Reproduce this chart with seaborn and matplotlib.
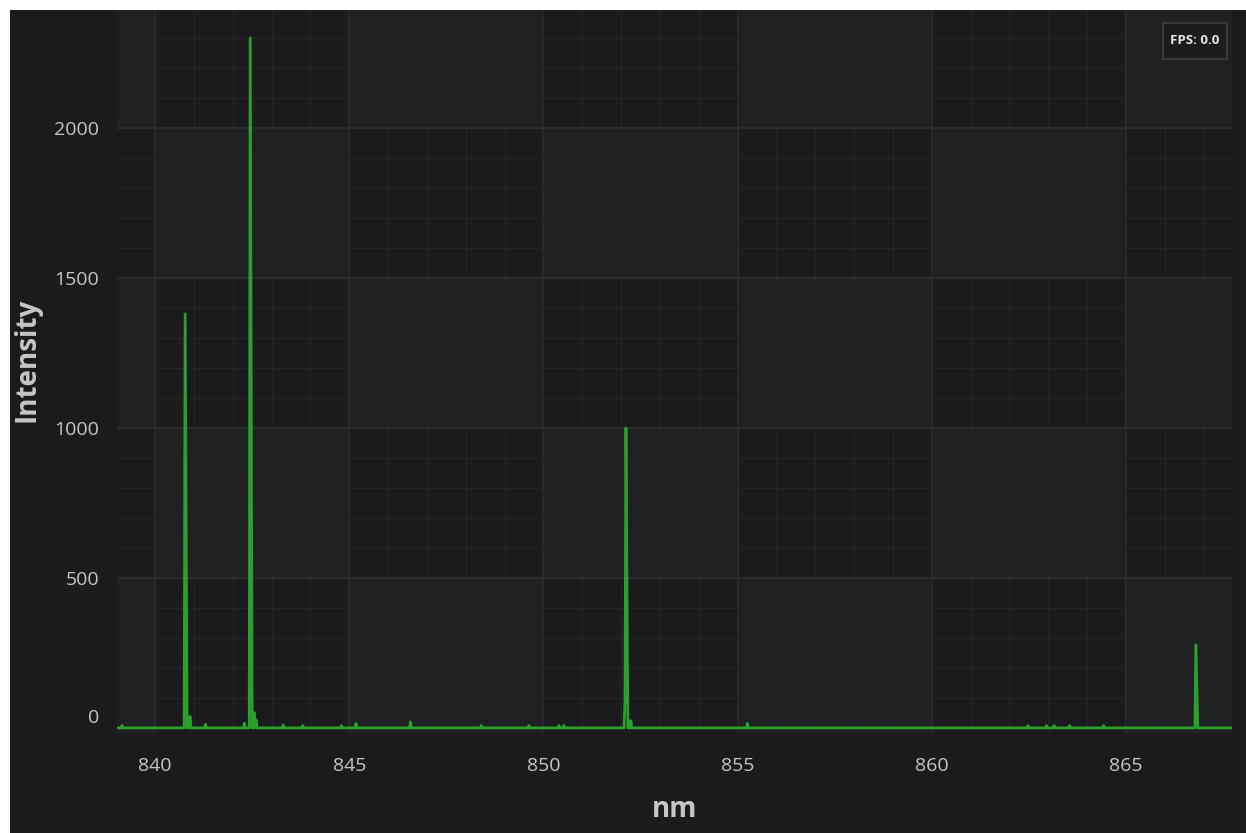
import numpy as np
import pandas as pd
import matplotlib
matplotlib.use("Agg")
import matplotlib.pyplot as plt
import matplotlib.patches as mpatches
import matplotlib.transforms as mtransforms
from matplotlib.ticker import MultipleLocator, FixedLocator
import seaborn as sns

# ---- spectrum data -------------------------------------------------------
# sampling grid of the spectrometer (nm)
grid_start_nm = 839.0
grid_stop_nm = 867.75
grid_step_nm = 0.025

# emission lines / small features above the flat zero baseline
line_nm = [839.15, 840.785, 840.81, 840.90, 841.31, 842.31, 842.44, 842.465,
           842.54, 842.59, 843.29, 843.81, 844.79, 845.17, 846.58, 848.40,
           849.63, 850.40, 850.52, 852.095, 852.12, 852.145, 852.25, 855.24,
           862.48, 862.95, 863.16, 863.54, 864.42, 866.80, 866.825]
line_counts = [8, 1380, 690, 38, 12, 16, 2300, 1150,
               51, 27, 10, 8, 8, 15, 20, 8,
               8, 8, 8, 84, 1000, 500, 24, 15,
               8, 8, 8, 8, 8, 277, 138]

x_ticks = [840, 845, 850, 855, 860, 865]
y_ticks = [0, 500, 1000, 1500, 2000]
x_label = "nm"
y_label = "Intensity"
fps_text = "FPS: 0.0"

# ---- build the sampled spectrum -----------------------------------------
nm = np.round(np.arange(grid_start_nm, grid_stop_nm + grid_step_nm / 2, grid_step_nm), 4)
counts = np.zeros_like(nm)
idx = np.rint((np.array(line_nm) - grid_start_nm) / grid_step_nm).astype(int)
counts[idx] = line_counts
spectrum = pd.DataFrame({"nm": nm, "Intensity": counts})

# ---- styling -------------------------------------------------------------
FIG_BG = "#1b1b1d"
TILE_DARK = "#1b1b1d"
TILE_LIGHT = "#1f2022"
GRID_MAJOR = "#2c2d30"
GRID_MINOR = "#242528"
TEXT = "#c6c6c6"
LINE = "#2ca02c"

sns.set_theme(style="dark")
plt.rcParams["font.family"] = ["Open Sans", "DejaVu Sans"]

W, H, DPI = 1246, 833, 100
fig = plt.figure(figsize=(W / DPI, H / DPI), dpi=DPI)
fig.patch.set_facecolor("white")
# dark window body with a thin white frame on top and left
fig.patches.append(mpatches.Rectangle((10 / W, 0), 1 - 10 / W, 1 - 10 / H,
                                      transform=fig.transFigure,
                                      facecolor=FIG_BG, edgecolor="none", zorder=-10))

ax_left, ax_right = 117 / W, 1232 / W
ax_bottom, ax_top = (H - 733) / H, (H - 10) / H
ax = fig.add_axes([ax_left, ax_bottom, ax_right - ax_left, ax_top - ax_bottom])
ax.set_facecolor(TILE_DARK)

xmin, xmax = 839.02, 867.73
ymin, ymax = -17, 2393
ax.set_xlim(xmin, xmax)
ax.set_ylim(ymin, ymax)

# checkerboard background between the major grid lines
x_edges = [xmin] + x_ticks + [xmax]
y_edges = [ymin] + y_ticks[1:] + [ymax]
for i in range(len(x_edges) - 1):
    for j in range(len(y_edges) - 1):
        col = i - 1  # column left of the first major tick has index -1
        shade = TILE_DARK if (col + j) % 2 == 0 else TILE_LIGHT
        ax.add_patch(mpatches.Rectangle((x_edges[i], y_edges[j]),
                                        x_edges[i + 1] - x_edges[i],
                                        y_edges[j + 1] - y_edges[j],
                                        facecolor=shade, edgecolor="none", zorder=0))

sns.lineplot(data=spectrum, x="nm", y="Intensity", ax=ax, color=LINE,
             linewidth=2.0, zorder=3, estimator=None, sort=False)

ax.xaxis.set_major_locator(FixedLocator(x_ticks))
ax.yaxis.set_major_locator(FixedLocator(y_ticks))
ax.xaxis.set_minor_locator(MultipleLocator(1))
ax.yaxis.set_minor_locator(MultipleLocator(100))
ax.grid(True, which="major", axis="y", color=GRID_MAJOR, linewidth=1.6, zorder=1)
ax.grid(True, which="major", axis="x", color=GRID_MAJOR, linewidth=1.1, zorder=1)
ax.grid(True, which="minor", color=GRID_MINOR, linewidth=1.0, zorder=1)
ax.set_axisbelow(True)
for s in ax.spines.values():
    s.set_visible(False)

ax.tick_params(axis="both", which="both", colors=GRID_MAJOR, labelcolor=TEXT,
               direction="out")
ax.tick_params(axis="y", which="major", length=7, width=1.6, pad=6, labelsize=14)
ax.tick_params(axis="y", which="minor", length=5, width=1.0, color=GRID_MINOR)
ax.tick_params(axis="x", which="major", length=5, width=1.1, pad=12, labelsize=14)
ax.tick_params(axis="x", which="minor", length=5, width=1.0, color=GRID_MINOR)
ax.set_xticklabels([str(v) for v in x_ticks])
ax.set_yticklabels([str(v) for v in y_ticks])

# the zero label sits a little above its grid line
zero_lbl = ax.get_yticklabels()[0]
zero_lbl.set_transform(zero_lbl.get_transform() +
                       mtransforms.ScaledTranslation(0, 12 / DPI, fig.dpi_scale_trans))

ax.set_xlabel(x_label, fontsize=20, fontweight="bold", color=TEXT, labelpad=15)
ax.set_ylabel(y_label, fontsize=20, fontweight="bold", color=TEXT)
# y title: right edge ~76 px left of the plot, centred slightly above mid-height
ax.yaxis.set_label_coords(-76 / 1115, (733 - 360) / 723)

# frame-rate badge in the top right corner
bx0, by0, bw, bh = 1163 / W, 1 - 59 / H, 64 / W, 36 / H
fig.patches.append(mpatches.Rectangle((bx0, by0), bw, bh, transform=fig.transFigure,
                                      facecolor="#1c1c1e", edgecolor="#36373a",
                                      linewidth=1.5, zorder=5))
fig.text(bx0 + bw / 2, by0 + bh / 2, fps_text, ha="center", va="center",
         fontsize=9.5, fontweight="bold", color="#e6e6e6", zorder=6)

fig.savefig("out.png", dpi=DPI, facecolor=fig.get_facecolor())
